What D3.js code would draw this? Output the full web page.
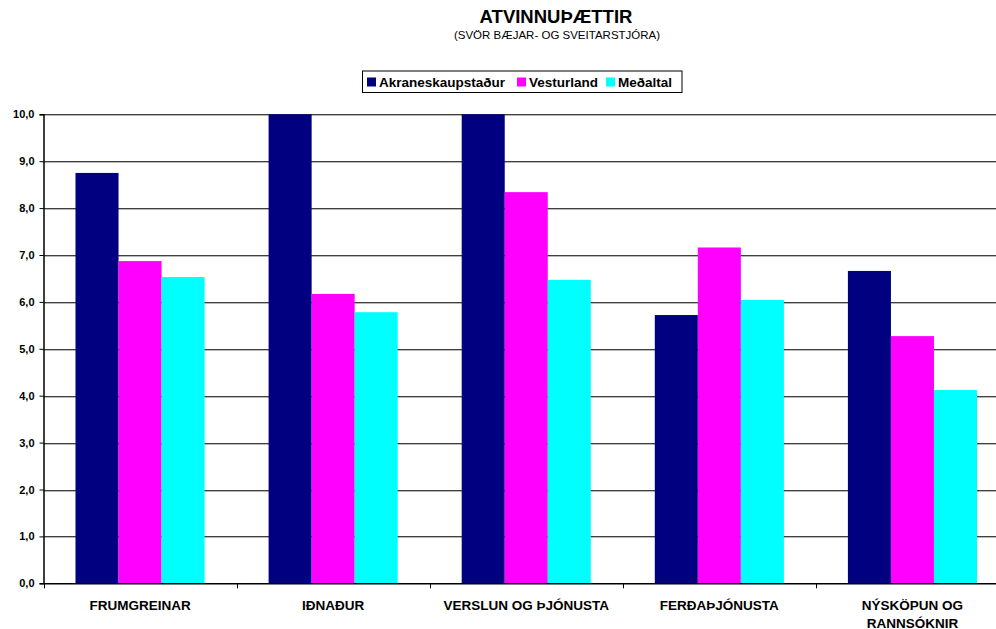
<!DOCTYPE html>
<html>
<head>
<meta charset="utf-8">
<script src="https://cdn.jsdelivr.net/npm/d3@7"></script>
<style>
  html, body { margin: 0; padding: 0; background: #fff; }
  svg { display: block; font-family: "Liberation Sans", Arial, sans-serif; }
</style>
</head>
<body>
<svg id="chart" width="996" height="629"></svg>
<script>
const categories = ["FRUMGREINAR", "IÐNAÐUR", "VERSLUN OG ÞJÓNUSTA", "FERÐAÞJÓNUSTA", "NÝSKÖPUN OG RANNSÓKNIR"];
const categoryLines = [["FRUMGREINAR"], ["IÐNAÐUR"], ["VERSLUN OG ÞJÓNUSTA"], ["FERÐAÞJÓNUSTA"], ["NÝSKÖPUN OG", "RANNSÓKNIR"]];
const seriesNames = ["Akraneskaupstaður", "Vesturland", "Meðaltal"];
const seriesColors = ["#000080", "#FF00FF", "#00FFFF"];
const akranes = [8.75, 10.0, 10.0, 5.72, 6.66];
const vesturland = [6.87, 6.17, 8.34, 7.16, 5.27];
const medaltal = [6.53, 5.78, 6.47, 6.04, 4.12];
const yTicks = [0, 1, 2, 3, 4, 5, 6, 7, 8, 9, 10];
const titleText = "ATVINNUÞÆTTIR";
const subtitleText = "(SVÖR BÆJAR- OG SVEITARSTJÓRA)";

const seriesValues = [akranes, vesturland, medaltal];

const svg = d3.select("#chart");
const plot = { left: 43.5, right: 1009, top: 114.3, bottom: 583.3 };

const x0 = d3.scaleBand().domain(categories).range([plot.left, plot.right]).padding(0);
const x1 = d3.scaleBand().domain(seriesNames)
  .range([x0.bandwidth() * 0.1657, x0.bandwidth() * (1 - 0.1657)]).padding(0);
const y = d3.scaleLinear().domain([0, 10]).range([plot.bottom, plot.top]);

// Gridlines
const grid = svg.append("g");
yTicks.filter(t => t > 0).forEach(t => {
  const yy = Math.round(y(t));
  grid.append("line").attr("x1", plot.left).attr("x2", 996)
    .attr("y1", yy + 1.5).attr("y2", yy + 1.5).attr("stroke", "#b8b8b8").attr("stroke-width", 1);
  grid.append("line").attr("x1", plot.left).attr("x2", 996)
    .attr("y1", yy + 0.5).attr("y2", yy + 0.5).attr("stroke", "#404040").attr("stroke-width", 1);
});

// Bars
const groups = svg.append("g").selectAll("g").data(categories).join("g")
  .attr("transform", d => `translate(${x0(d)},0)`);
groups.selectAll("rect")
  .data((d, i) => seriesNames.map((s, j) => ({ s, v: seriesValues[j][i], c: seriesColors[j] })))
  .join("rect")
  .attr("x", d => x1(d.s))
  .attr("width", x1.bandwidth())
  .attr("y", d => y(d.v))
  .attr("height", d => y(0) - y(d.v))
  .attr("fill", d => d.c);

// Y axis
const yAxis = d3.axisLeft(y).tickValues(yTicks).tickSize(4).tickPadding(5)
  .tickFormat(d => d3.format(".1f")(d).replace(".", ","));
const gy = svg.append("g").attr("transform", `translate(${plot.left},0)`).call(yAxis);
gy.select(".domain").attr("stroke", "#000").attr("stroke-width", 1.5);
gy.selectAll(".tick line").attr("stroke", "#000");
gy.selectAll(".tick text").attr("font-size", 11).attr("font-weight", "bold").attr("fill", "#000")
  .attr("font-family", "'Liberation Sans', Arial, sans-serif");

// X axis line
svg.append("line").attr("x1", plot.left).attr("x2", 996)
  .attr("y1", plot.bottom + 0.5).attr("y2", plot.bottom + 0.5).attr("stroke", "#000").attr("stroke-width", 1.5);
// x ticks between categories
categories.forEach((c, i) => {
  const xx = Math.round(x0(c)) + 0.5;
  svg.append("line").attr("x1", xx).attr("x2", xx).attr("y1", plot.bottom).attr("y2", plot.bottom + 5)
    .attr("stroke", "#000").attr("stroke-width", 1);
});
// x labels
categories.forEach((c, i) => {
  const t = svg.append("text").attr("text-anchor", "middle")
    .attr("font-size", 13.5).attr("font-weight", "bold").attr("fill", "#000");
  categoryLines[i].forEach((line, k) => {
    t.append("tspan").attr("x", x0(c) + x0.bandwidth() / 2).attr("y", 609.5 + k * 18).text(line);
  });
});

// Title
svg.append("text").attr("x", 556).attr("y", 22.5).attr("text-anchor", "middle")
  .attr("font-size", 18.5).attr("font-weight", "bold").text(titleText);
svg.append("text").attr("x", 557).attr("y", 39).attr("text-anchor", "middle")
  .attr("font-size", 11.5).text(subtitleText);

// Legend
const lg = svg.append("g");
lg.append("rect").attr("x", 362.5).attr("y", 71).attr("width", 319.5).attr("height", 21.5)
  .attr("fill", "#fff").attr("stroke", "#000").attr("stroke-width", 1);
const legendX = [367, 517, 606];
seriesNames.forEach((s, i) => {
  lg.append("rect").attr("x", legendX[i]).attr("y", 77.5).attr("width", 9).attr("height", 9).attr("fill", seriesColors[i]);
  lg.append("text").attr("x", legendX[i] + 12).attr("y", 87.3).attr("font-size", 13.5)
    .attr("font-weight", "bold").text(s);
});
</script>
</body>
</html>
